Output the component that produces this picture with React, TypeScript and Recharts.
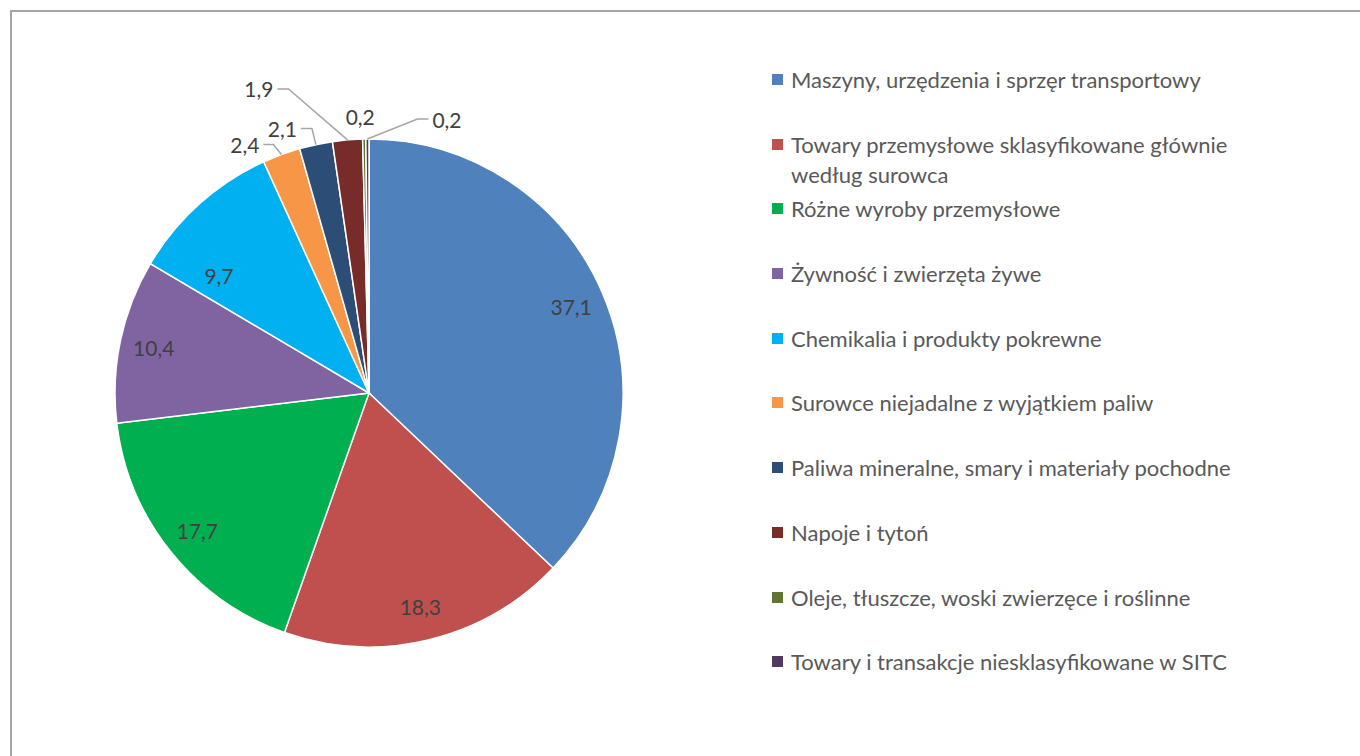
import React from 'react';
import { PieChart, Pie, Cell, Legend } from 'recharts';

const categories = [
  'Maszyny, urzędzenia i sprzęr transportowy',
  'Towary przemysłowe sklasyfikowane głównie według surowca',
  'Różne wyroby przemysłowe',
  'Żywność i zwierzęta żywe',
  'Chemikalia i produkty pokrewne',
  'Surowce niejadalne z wyjątkiem paliw',
  'Paliwa mineralne, smary i materiały pochodne',
  'Napoje i tytoń',
  'Oleje, tłuszcze, woski zwierzęce i roślinne',
  'Towary i transakcje niesklasyfikowane w SITC',
];

const shares = [37.1, 18.3, 17.7, 10.4, 9.7, 2.4, 2.1, 1.9, 0.2, 0.2];

const colors = [
  '#4F81BD',
  '#C0504D',
  '#00B050',
  '#8064A2',
  '#00B0F0',
  '#F79646',
  '#2C4D75',
  '#772C2A',
  '#5F7530',
  '#4D3B62',
];

const data = categories.map((name, i) => ({ name, value: shares[i] }));

const FONT = 'Lato, "Noto Sans", sans-serif';

// inside labels: radius as share of the outer radius, optional angle nudge (deg)
const insideLabels: Record<number, { ratio: number; nudge: number }> = {
  4: { ratio: 0.75, nudge: 10 },
};

// callouts for the thin slices at the top: elbow offset from the slice edge, then a short horizontal run
const callouts: Record<number, { dx: number; dy: number; run: number; line: boolean }> = {
  5: { dx: -8, dy: -10, run: -10, line: true },
  6: { dx: -4, dy: -16, run: -11, line: true },
  7: { dx: -59, dy: -51, run: -11, line: true },
  8: { dx: -4, dy: -23, run: 0, line: false },
  9: { dx: 50, dy: -20, run: 11, line: true },
};

const fmt = (v: number) => v.toFixed(1).replace('.', ',');

const renderLabel = (props: any) => {
  const { cx, cy, midAngle, outerRadius, index, value } = props;
  const rad = Math.PI / 180;
  const c = callouts[index];

  if (!c) {
    const opt = insideLabels[index] || { ratio: 0.866, nudge: 0 };
    const a = -(midAngle + opt.nudge) * rad;
    const r = outerRadius * opt.ratio;
    return (
      <text
        x={cx + r * Math.cos(a)}
        y={cy + r * Math.sin(a)}
        textAnchor="middle"
        dominantBaseline="central"
        fill="#404040"
        fontSize={21}
        fontFamily={FONT}
      >
        {fmt(value)}
      </text>
    );
  }

  const ex = cx + outerRadius * Math.cos(-midAngle * rad);
  const ey = cy + outerRadius * Math.sin(-midAngle * rad);
  const bx = ex + c.dx;
  const by = ey + c.dy;

  if (!c.line) {
    return (
      <text x={bx} y={by} textAnchor="middle" dominantBaseline="central" fill="#404040" fontSize={21} fontFamily={FONT}>
        {fmt(value)}
      </text>
    );
  }

  const endX = bx + c.run;
  const left = c.run < 0;
  return (
    <g>
      <polyline
        points={`${ex},${ey} ${bx},${by} ${endX},${by}`}
        fill="none"
        stroke="#A6A6A6"
        strokeWidth={1.5}
      />
      <text
        x={endX + (left ? -4 : 4)}
        y={by}
        textAnchor={left ? 'end' : 'start'}
        dominantBaseline="central"
        fill="#404040"
        fontSize={21}
        fontFamily={FONT}
      >
        {fmt(value)}
      </text>
    </g>
  );
};

const LegendList = ({ payload }: any) => {
  const items = [...(payload || [])].sort(
    (a: any, b: any) => categories.indexOf(a.value) - categories.indexOf(b.value)
  );
  return (
    <div style={{ fontFamily: FONT, fontSize: 22, color: '#595959' }}>
      {items.map((entry: any, i: number) => (
        <div key={`leg-${i}`} style={{ display: 'flex', alignItems: 'flex-start', height: 64.7 }}>
          <div
            style={{
              width: 11,
              height: 11,
              marginTop: 9,
              marginRight: 8,
              flexShrink: 0,
              background: entry.color,
            }}
          />
          <div style={{ width: 450, lineHeight: '30px' }}>{entry.value}</div>
        </div>
      ))}
    </div>
  );
};

export default function App() {
  return (
    <>
      <div
        style={{
          position: 'fixed',
          left: 10,
          top: 10,
          width: 1400,
          height: 800,
          border: '2px solid #A6A6A6',
          boxSizing: 'border-box',
          background: '#fff',
        }}
      />
      <div style={{ position: 'fixed', left: 0, top: 0, width: 1360, height: 756 }}>
        <PieChart width={1360} height={756} margin={{ top: 0, right: 0, bottom: 0, left: 0 }}>
          <Pie
            data={data}
            dataKey="value"
            nameKey="name"
            cx={369}
            cy={393}
            outerRadius={254}
            startAngle={90}
            endAngle={-270}
            stroke="#FFFFFF"
            strokeWidth={1.5}
            label={renderLabel}
            labelLine={false}
            isAnimationActive={false}
          >
            {data.map((d, i) => (
              <Cell key={`slice-${i}`} fill={colors[i]} />
            ))}
          </Pie>
          <Legend
            layout="vertical"
            align="right"
            verticalAlign="top"
            content={<LegendList />}
            wrapperStyle={{ left: 772, top: 65, width: 560 }}
          />
        </PieChart>
      </div>
    </>
  );
}
